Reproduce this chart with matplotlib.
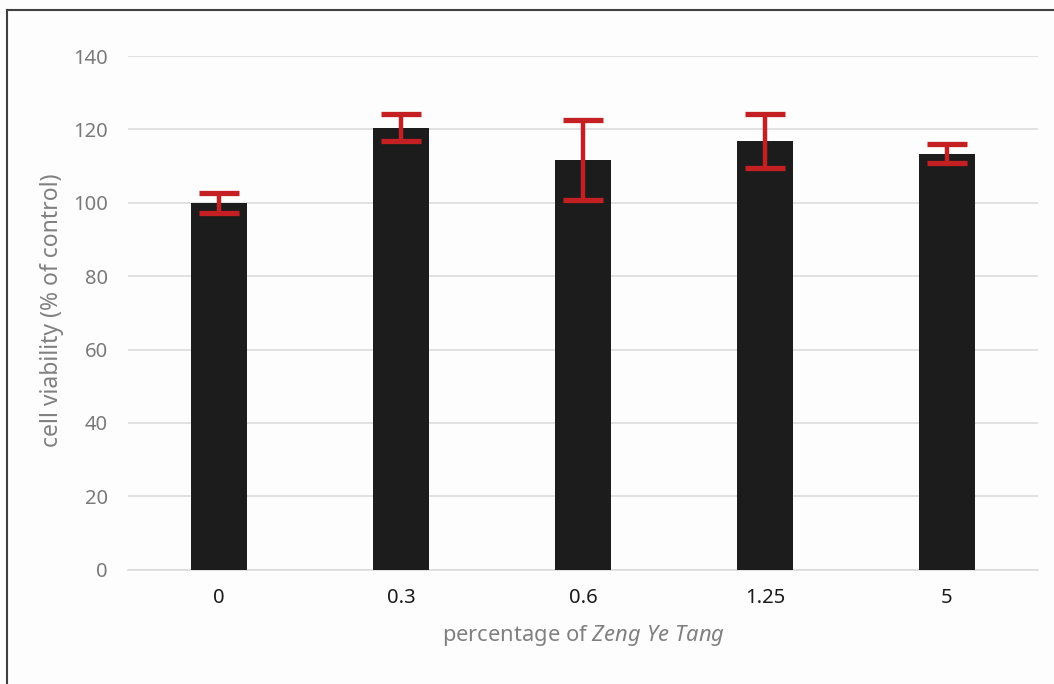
import matplotlib
matplotlib.use("Agg")
import matplotlib.pyplot as plt
from matplotlib.lines import Line2D

categories = ["0", "0.3", "0.6", "1.25", "5"]
viability = [100.0, 120.5, 111.6, 116.9, 113.4]
errors = [2.7, 3.7, 10.9, 7.35, 2.55]
yticks = [0, 20, 40, 60, 80, 100, 120, 140]

plt.rcParams['font.family'] = ['Noto Sans', 'DejaVu Sans']
plt.rcParams['mathtext.fontset'] = 'custom'
plt.rcParams['mathtext.rm'] = 'Noto Sans'
plt.rcParams['mathtext.it'] = 'Noto Sans:italic'

W, H = 1054, 684
fig = plt.figure(figsize=(W / 100, H / 100), dpi=100)
fig.patch.set_facecolor("#fdfdfd")
ax = fig.add_axes([128 / W, 1 - 569.7 / H, 910 / W, (569.7 - 56) / H])
ax.set_facecolor("none")

x = list(range(len(categories)))
ax.bar(x, viability, width=0.313, color="#1c1c1c", zorder=3)
ax.errorbar(x, viability, yerr=errors, fmt="none", ecolor="#c42024",
            elinewidth=3.2, capsize=14.5, capthick=3.8, zorder=4)

ax.set_xlim(-0.5, len(categories) - 0.5)
ax.set_ylim(0, 140)
ax.set_yticks(yticks)
ax.set_xticks(x)
ax.set_xticklabels(categories, color="#1a1a1a", fontsize=14.5)
ax.set_yticklabels([str(t) for t in yticks], color="#7a7a7a", fontsize=14.5)
ax.tick_params(axis="both", length=0)
ax.tick_params(axis="y", pad=14.5)
ax.tick_params(axis="x", pad=13)
ax.grid(axis="y", color="#dcdcdc", linewidth=1.2, zorder=0)
for s in ["top", "right", "left"]:
    ax.spines[s].set_visible(False)
ax.spines["bottom"].set_color("#dcdcdc")
ax.spines["bottom"].set_linewidth(1.2)

ax.set_ylabel("cell viability (% of control)", color="#808080", fontsize=16.5)
ax.yaxis.set_label_coords(52 / W, 1 - 310 / H, transform=fig.transFigure)
ax.set_xlabel(r"percentage of $\it{Zeng\ Ye\ Tang}$", color="#808080", fontsize=15.8)
ax.xaxis.set_label_coords(583 / W, 1 - 635 / H, transform=fig.transFigure)
ax.xaxis.label.set_va("center")
ax.yaxis.label.set_va("center")

# figure frame lines (left and top)
fig.add_artist(Line2D([7 / W, 7 / W], [0, 1 - 10 / H], color="#404040", lw=1.5, transform=fig.transFigure))
fig.add_artist(Line2D([7 / W, 1], [1 - 10 / H, 1 - 10 / H], color="#404040", lw=1.5, transform=fig.transFigure))

fig.savefig("out.png", dpi=100, facecolor=fig.get_facecolor())
